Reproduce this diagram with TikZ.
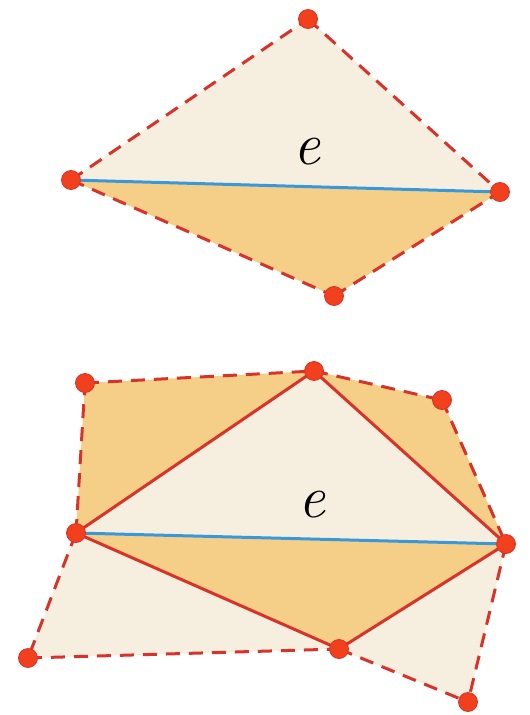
\documentclass[tikz,border=0pt]{standalone}
\usepackage{fontspec}
\usepackage{tikz}
\definecolor{cream}{HTML}{F6EFE0}
\definecolor{orng}{HTML}{F5CF88}
\definecolor{edgered}{HTML}{D93329}
\definecolor{dotred}{HTML}{F0401E}
\definecolor{blu}{HTML}{3A98D8}
\tikzset{
  dashedge/.style={draw=edgered,line width=3pt,dash pattern=on 14pt off 9pt},
  solidedge/.style={draw=edgered,line width=3pt},
  diag/.style={draw=blu,line width=3pt},
  vtx/.style={circle,fill=dotred,draw=edgered,line width=0.8pt,inner sep=0pt,minimum size=19pt},
  lbl/.style={font=\fontsize{60}{62}\selectfont\itshape}
}
\begin{document}
\begin{tikzpicture}[x=1pt,y=-1pt]
\useasboundingbox (0,0) rectangle (530,715);
% top figure
\coordinate (t1) at (308,19);
\coordinate (t2) at (71,180);
\coordinate (t3) at (500,192);
\coordinate (t4) at (334,296);
\fill[cream] (t1) -- (t2) -- (t3) -- cycle;
\fill[orng] (t2) -- (t3) -- (t4) -- cycle;
\draw[dashedge] (t2) -- (t1);
\draw[dashedge] (t1) -- (t3);
\draw[dashedge] (t2) -- (t4);
\draw[dashedge] (t4) -- (t3);
\draw[diag] (t2) -- (t3);
\node[lbl] (e1) at (307,152) {e};
\foreach \p in {t1,t2,t3,t4} \node[vtx] at (\p) {};
% bottom figure
\coordinate (A) at (85,383);
\coordinate (B) at (314,371);
\coordinate (C) at (442,400);
\coordinate (D) at (506,544);
\coordinate (E) at (339,649);
\coordinate (F) at (468,702);
\coordinate (G) at (28,658);
\coordinate (H) at (76,533);
\fill[orng] (A) -- (B) -- (H) -- cycle;
\fill[orng] (B) -- (C) -- (D) -- cycle;
\fill[cream] (H) -- (E) -- (G) -- cycle;
\fill[cream] (E) -- (D) -- (F) -- cycle;
\fill[cream] (H) -- (B) -- (D) -- cycle;
\fill[orng] (H) -- (D) -- (E) -- cycle;
\draw[dashedge] (A) -- (B);
\draw[dashedge] (H) -- (A);
\draw[dashedge] (B) -- (C);
\draw[dashedge] (C) -- (D);
\draw[dashedge] (D) -- (F);
\draw[dashedge] (E) -- (F);
\draw[dashedge] (G) -- (E);
\draw[dashedge] (H) -- (G);
\draw[solidedge] (H) -- (B) -- (D) -- (E) -- cycle;
\draw[diag] (H) -- (D);
\node[lbl] (e2) at (312,505) {e};
\foreach \p in {A,B,C,D,E,F,G,H} \node[vtx] at (\p) {};
\end{tikzpicture}
\end{document}
